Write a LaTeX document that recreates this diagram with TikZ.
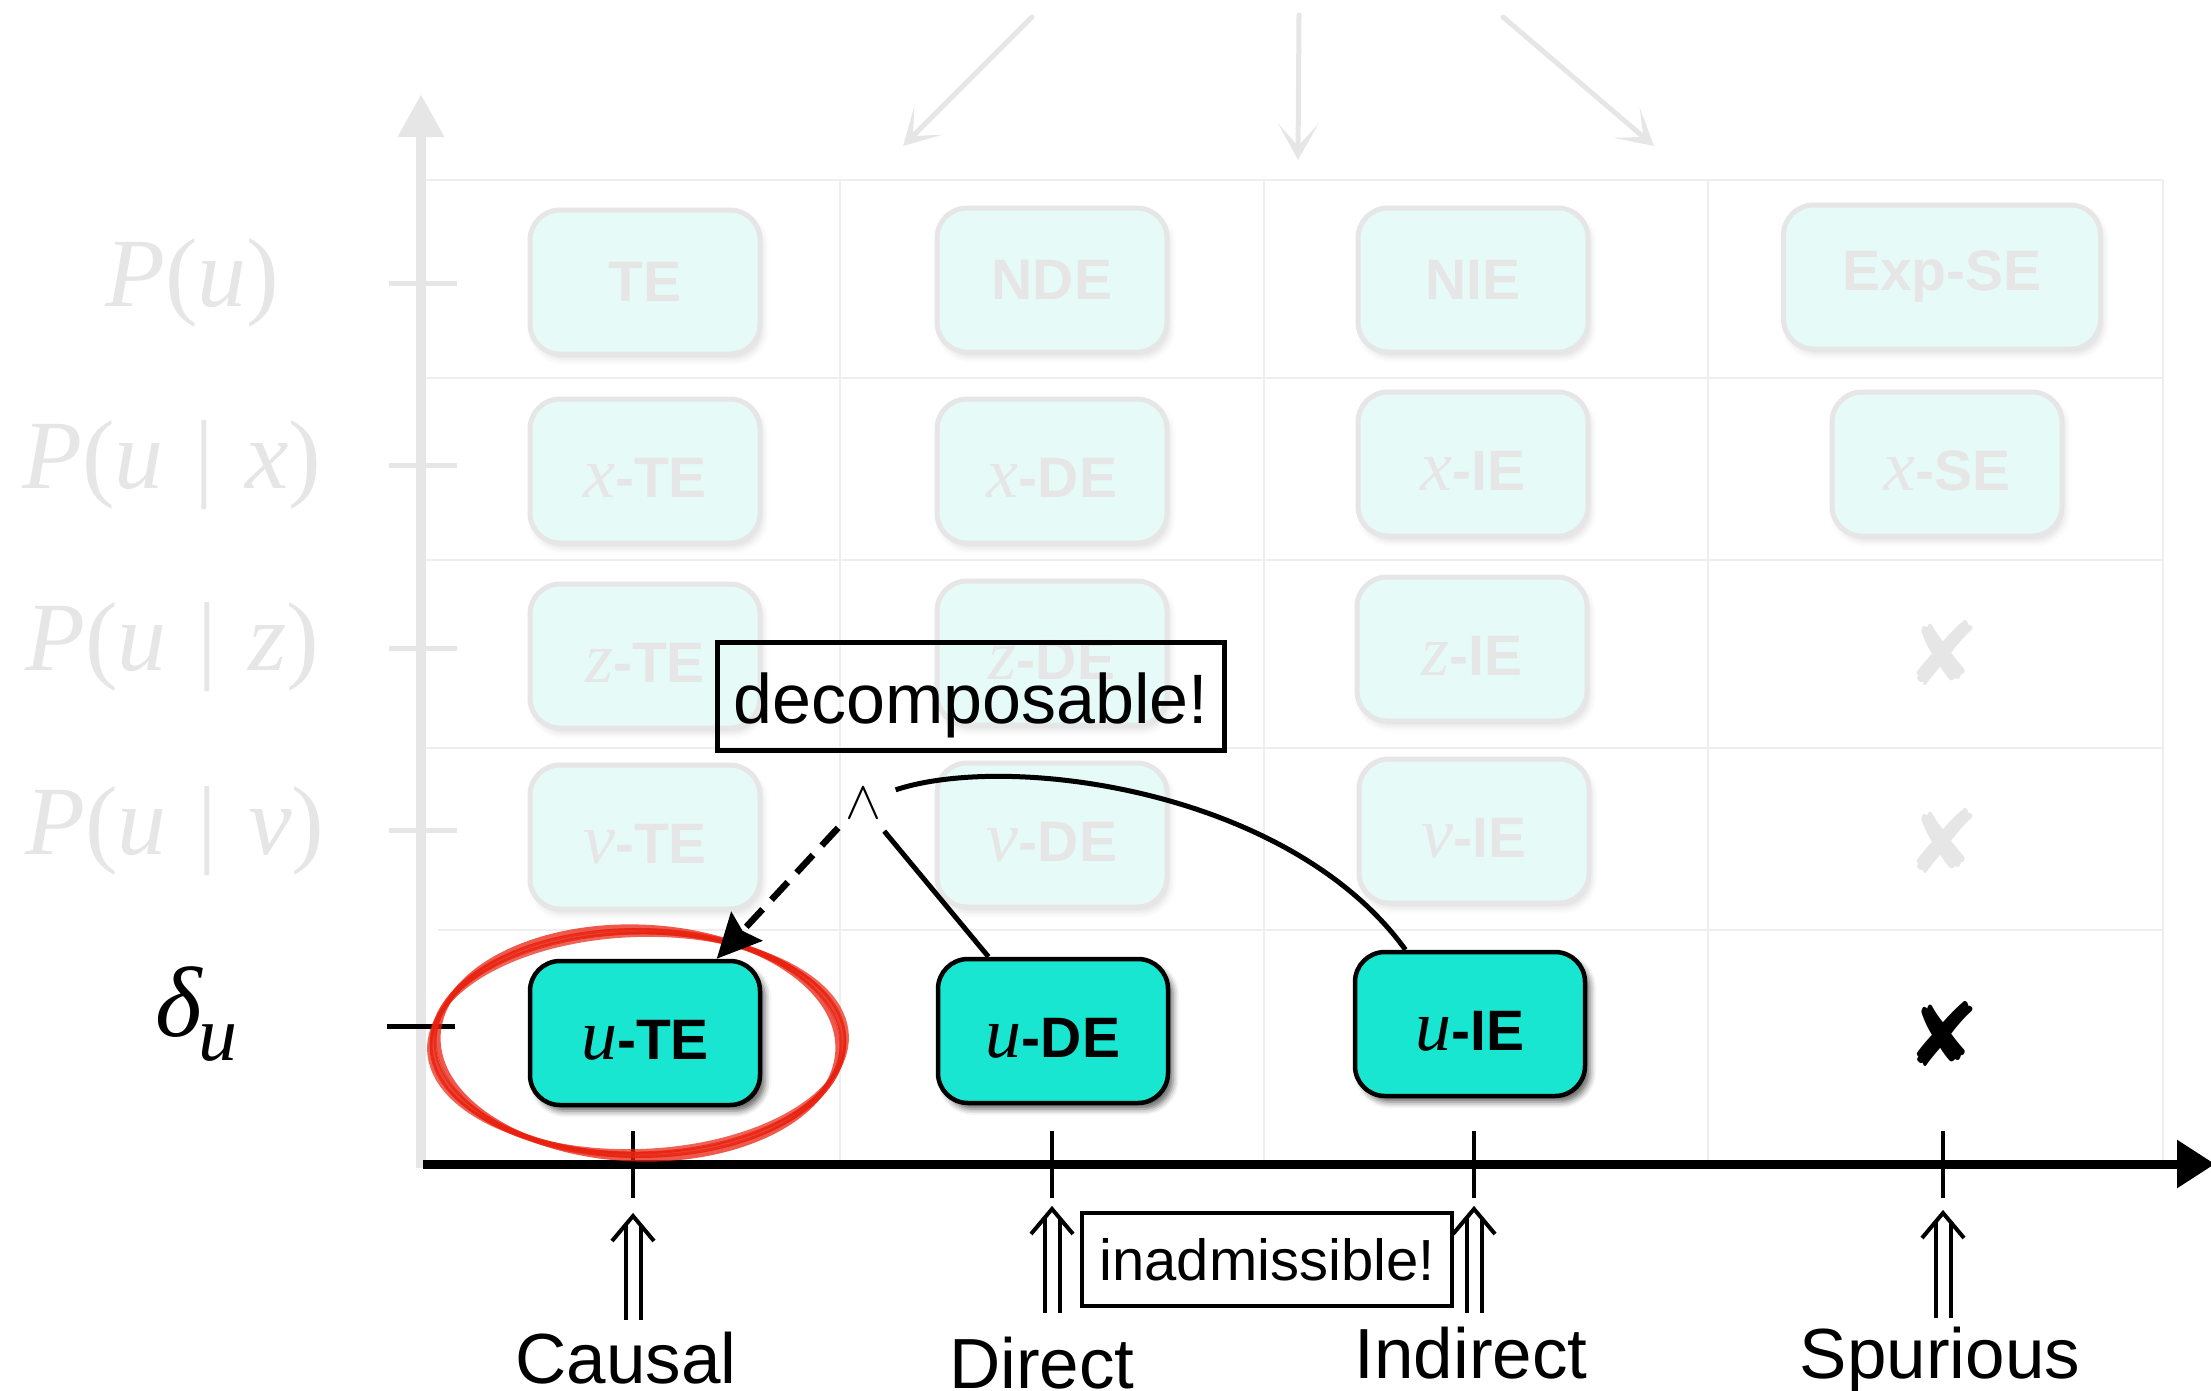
\documentclass[tikz,border=0pt]{standalone}
\usepackage{fontspec}
\usepackage{graphicx}
\setmainfont{Liberation Sans}
\newfontfamily\tms{Liberation Serif}
\newfontfamily\djv{DejaVu Sans}
\usetikzlibrary{arrows.meta,shadows.blur,calc}

\definecolor{fadeline}{RGB}{230,230,230}
\definecolor{gridline}{RGB}{238,238,238}
\definecolor{fadefill}{RGB}{230,250,247}
\definecolor{tealfill}{RGB}{24,230,208}
\definecolor{penred}{RGB}{232,33,15}

\newcommand\setfs[1]{\fontsize{#1}{#1}\selectfont}
\newcommand\itl[1]{{\tms\mdseries\itshape\setfs{72}#1}}
\newcommand\cbar{\hspace{31pt}|\hspace{31pt}}

\begin{document}
\begin{tikzpicture}[x=1pt,y=-1pt,
  effbox/.style={rounded corners=30pt, minimum width=230pt, minimum height=144pt,
    inner sep=0pt, font=\setfs{57}\bfseries},
  faded/.style={effbox, draw=fadeline, line width=5pt, fill=fadefill, text=fadeline,
    blur shadow={shadow xshift=3pt, shadow yshift=-5pt, shadow blur radius=6pt, shadow opacity=12}},
  active/.style={effbox, draw=black, line width=4.5pt, fill=tealfill,
    blur shadow={shadow xshift=5pt, shadow yshift=-6pt, shadow blur radius=6pt, shadow opacity=60}},
  low/.style={text height=52pt, text depth=0pt},
  rowlab/.style={anchor=base west, inner sep=0pt, font=\tms\setfs{98}, text=fadeline},
  crossmark/.style={inner sep=0pt, font=\djv\setfs{88}},
  sketch/.style={fadeline, line width=5pt, line cap=round,
    -{Stealth[length=36pt,width=40pt,inset=22pt]}},
  grid line/.style={gridline, line width=2pt},
  axislab/.style={anchor=base, inner sep=0pt, font=\setfs{71}, text height=52pt},
  dbl/.style={double, double distance=11pt, line width=4pt},
  chev/.style={line width=4pt, line join=miter},
  note/.style={draw, inner sep=0pt}
]
\useasboundingbox (0,0) rectangle (2211,1390);

% table grid
\foreach \y in {180,378,560,748}
  \draw[grid line] (417,\y) -- (2163,\y);
\draw[grid line] (438,930) -- (2163,930);
\foreach \x in {840,1264,1708,2163}
  \draw[grid line] (\x,180) -- (\x,1165);

% vertical axis and its row ticks
\foreach \y in {283,465,648,830}
  \draw[fadeline, line width=5pt] (389,\y) -- (457,\y);
\draw[fadeline, line width=10pt, -{Triangle[length=43pt,width=44pt]}] (421,1168) -- (421,94);
\draw[line width=5pt] (387,1026) -- (455,1026);

% row labels
\node[rowlab] (lPu)  at (105,306) {\textit{P}(\textit{u})};
\node[rowlab] (lPux) at (22,488)  {\textit{P}(\textit{u}\cbar\textit{x})};
\node[rowlab] (lPuz) at (25,670)  {\textit{P}(\textit{u}\cbar\textit{z})};
\node[rowlab] (lPuv) at (25,854)  {\textit{P}(\textit{u}\cbar\textit{v})};
\node[anchor=base west, inner sep=0pt, font=\tms\itshape\setfs{100}] (ldu) at (155,1036)
  {δ\hspace{-3pt}\raisebox{-24pt}{\setfs{78}u}};

% hand-drawn arrows above the table
\coordinate (s1) at (1032,17);  \coordinate (e1) at (903,146);
\coordinate (s2) at (1299,15);  \coordinate (e2) at (1298,160);
\coordinate (s3) at (1503,17);  \coordinate (e3) at (1654,146);
\draw[sketch] (s1) -- (e1);
\draw[sketch] (s2) -- (e2);
\draw[sketch] (s3) -- (e3);

% faded measures
\node[faded] (TE)   at (645,282)  {TE};
\node[faded] (NDE)  at (1052,280) {NDE};
\node[faded] (NIE)  at (1473,280) {NIE};
\node[faded, minimum width=317pt] (ExpSE) at (1942,277) {Exp-SE};

\node[faded, low] (xTE) at (645,471)   {\itl{x}-TE};
\node[faded, low] (xDE) at (1052,471)  {\itl{x}-DE};
\node[faded, low] (xIE) at (1473,464)  {\itl{x}-IE};
\node[faded, low] (xSE) at (1947,464)  {\itl{x}-SE};

\node[faded, low] (zTE) at (645,656)   {\itl{z}-TE};
\node[faded, low] (zDE) at (1052,653)  {\itl{z}-DE};
\node[faded, low] (zIE) at (1472,649)  {\itl{z}-IE};
\node[crossmark, text=fadeline] (zSE) at (1943,653) {✘};

\node[faded, low] (vTE) at (645,837)   {\itl{v}-TE};
\node[faded, low] (vDE) at (1052,835)  {\itl{v}-DE};
\node[faded, low] (vIE) at (1474,831)  {\itl{v}-IE};
\node[crossmark, text=fadeline] (vSE) at (1943,841) {✘};

% horizontal axis with ticks
\foreach \x in {633,1052,1474,1943}
  \draw[line width=4pt] (\x,1131) -- (\x,1198);
\draw[line width=9pt, -{Triangle[length=38pt,width=46pt]}] (423,1164) -- (2215,1164);

% delta_u measures
\node[active, low] (uTE) at (645,1033)  {\itl{u}-TE};
\node[active, low] (uDE) at (1053,1031) {\itl{u}-DE};
\node[active, low] (uIE) at (1470,1024) {\itl{u}-IE};
\node[crossmark] (uSE) at (1943,1034) {✘};

% red pen circle round u-TE
\foreach \rx/\ry/\r/\w/\o in {205/112/0/6/0.85, 209/108/2/4/0.7, 200/116/-2/5/0.75,
                               207/110/1/3/0.8, 203/113/-1/3/0.6}
  \draw[penred, line width=\w pt, opacity=\o, rotate around={\r:(638,1043)}]
    (638,1043) ellipse [x radius=\rx, y radius=\ry];

% decomposition
\node[note, line width=5pt, minimum width=507pt, minimum height=108pt,
      font=\setfs{70}, text height=53pt, text depth=0pt] (dec) at (971,696.5) {decomposable!};
\node[circle, minimum size=70pt, inner sep=0pt] (wedge) at (863,803) {\scalebox{5.4}{$\wedge$}};
\draw[line width=6.5pt, dash pattern=on 24pt off 13pt,
      -{Stealth[length=44pt,width=42pt,inset=6pt]}] (wedge.225) -- (uTE.46.6);
\draw[line width=5pt] (wedge.-53) -- (uDE.131);
\draw[line width=5pt] (wedge.22) .. controls (1010,752) and (1290,790) .. (uIE.131);

% axis labels
\node[axislab] (Causal)   at (626,1383)  {Causal};
\node[axislab] (Direct)   at (1042,1388) {Direct};
\node[axislab] (Indirect) at (1471,1378) {Indirect};
\node[axislab] (Spurious) at (1940,1378) {Spurious};
\node[note, line width=4pt, minimum width=370pt, minimum height=93pt,
      font=\setfs{58}] (inad) at (1267,1259.5) {inadmissible!};

% double arrows from the labels up to the axis
\coordinate (aC) at (633,1216);
\coordinate (aD) at (1052,1209);
\coordinate (aI) at (1474,1209);
\coordinate (aS) at (1943,1213);
\draw[dbl, shorten <=11pt, shorten >=9pt] (Causal.north -| aC) -- (aC);
\draw[dbl, shorten <=23pt, shorten >=9pt] (Direct.north -| aD) -- (aD);
\draw[dbl, shorten <=13pt, shorten >=9pt] (Indirect.north -| aI) -- (aI);
\draw[dbl, shorten <=8pt, shorten >=9pt] (Spurious.north -| aS) -- (aS);
\foreach \a in {aC,aD,aI,aS}
  \draw[chev] ($(\a)+(-21,25)$) -- (\a) -- ($(\a)+(21,25)$);
\end{tikzpicture}
\end{document}
